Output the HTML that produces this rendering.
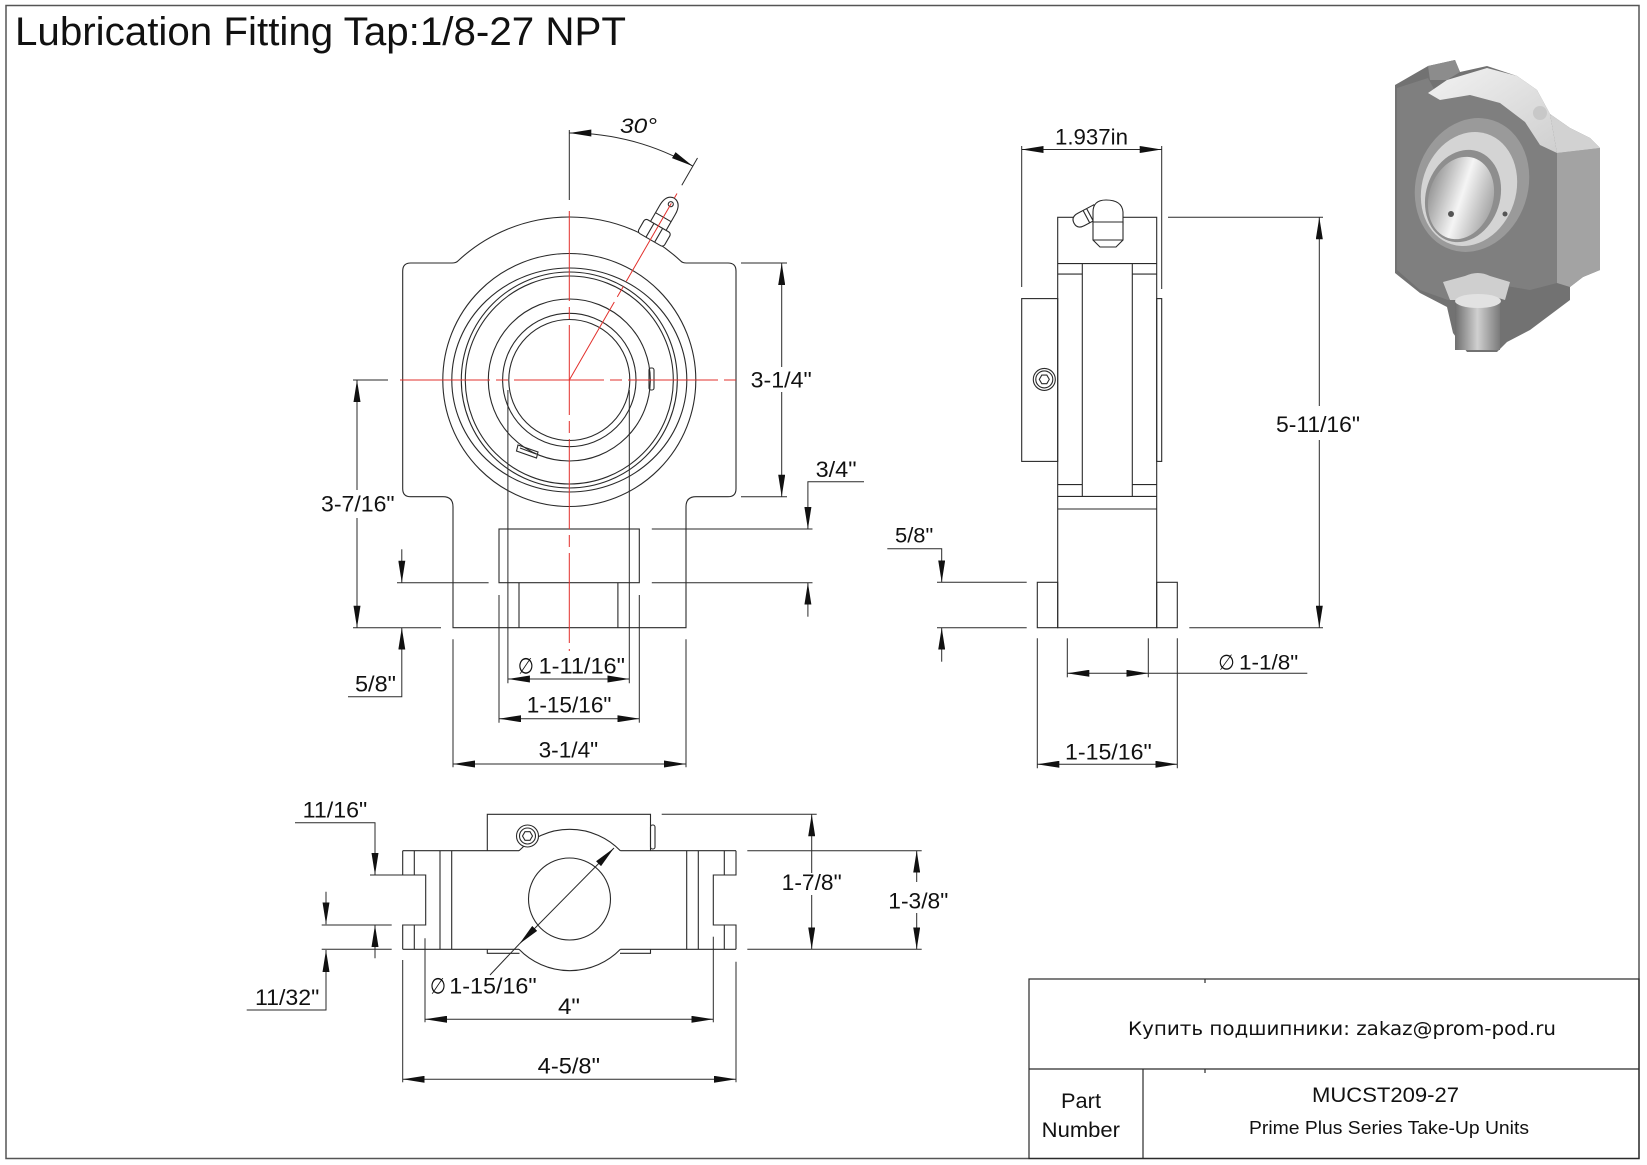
<!DOCTYPE html>
<html><head><meta charset="utf-8">
<style>
html,body{margin:0;padding:0;background:#fff;}
svg{display:block;}
text{font-family:"Liberation Sans",Arial,sans-serif;fill:#111;}
.sym{font-family:"DejaVu Sans","Liberation Sans",sans-serif;}
</style></head><body>
<svg width="1647" height="1165" viewBox="0 0 1647 1165" xmlns="http://www.w3.org/2000/svg">
<defs>
<marker id="ar" viewBox="0 0 22 7" refX="22" refY="3.5" markerWidth="22" markerHeight="7" markerUnits="userSpaceOnUse" orient="auto-start-reverse"><path d="M0,0 L22,3.5 L0,7 z" fill="#111"/></marker>
<linearGradient id="g1" x1="0" y1="0" x2="1" y2="1"><stop offset="0" stop-color="#f2f2f2"/><stop offset="1" stop-color="#cfcfcf"/></linearGradient>
<linearGradient id="g2" x1="0" y1="0" x2="1" y2="0"><stop offset="0" stop-color="#9a9a9a"/><stop offset="0.5" stop-color="#f5f5f5"/><stop offset="1" stop-color="#a8a8a8"/></linearGradient>
<linearGradient id="g3" x1="0" y1="0" x2="1" y2="0"><stop offset="0" stop-color="#6e6e6e"/><stop offset="0.5" stop-color="#d0d0d0"/><stop offset="1" stop-color="#7a7a7a"/></linearGradient>
</defs>

<!-- border -->
<rect x="6" y="5.5" width="1633" height="1153" fill="none" stroke="#555" stroke-width="1.5"/>

<!-- title -->
<text x="15" y="45" font-size="40" textLength="611" lengthAdjust="spacingAndGlyphs">Lubrication Fitting Tap:1/8-27 NPT</text>

<!-- ================= FRONT VIEW ================= -->
<g fill="none" stroke="#2a2a2a" stroke-width="1.1">
  <path d="M410.7,263 L452,263 Q456,263 457.9,261 A163,163 0 0 1 680.7,261 Q682.5,263 686.5,263 L728,263 Q736,263 736,271 L736,488.7 Q736,496.7 728,496.7 L696,496.7 Q686,496.7 686,506.7 L686,627.7 L453,627.7 L453,506.7 Q453,496.7 443,496.7 L410.7,496.7 Q402.7,496.7 402.7,488.7 L402.7,271 Q402.7,263 410.7,263 Z"/>
  <circle cx="569.3" cy="380" r="126.5"/>
  <ellipse cx="569.3" cy="380" rx="117.5" ry="112"/>
  <circle cx="569.3" cy="380" r="108"/>
  <circle cx="569.3" cy="380" r="104"/>
  <circle cx="569.3" cy="380" r="81"/>
  <circle cx="569.3" cy="380" r="66.7"/>
  <circle cx="569.3" cy="380" r="60.5"/>
  <rect x="649" y="368" width="5" height="22" rx="2"/>
  <polygon points="518,445 538,452 536.5,458 516.5,451"/>
  <line x1="520" y1="448" x2="536" y2="454"/>
  <!-- inner slot rect -->
  <rect x="499" y="529" width="140.3" height="53.7"/>
  <line x1="519" y1="582.7" x2="519" y2="627.7"/>
  <line x1="617.9" y1="582.7" x2="617.9" y2="627.7"/>
  <!-- grease fitting -->
  <g transform="translate(569.3,380) rotate(30)" fill="#fff">
    <path d="M-9,-177 L-9,-196 Q-9,-209 0,-210 Q9,-209 9,-196 L9,-177 Z"/>
    <line x1="-9" y1="-188" x2="9" y2="-188"/>
    <circle cx="0" cy="-203" r="2.5"/>
    <rect x="-15" y="-178" width="30" height="16" rx="3"/>
    <line x1="-5" y1="-178" x2="-5" y2="-162"/>
    <line x1="5" y1="-178" x2="5" y2="-162"/>
  </g>
</g>

<!-- red centerlines -->
<g stroke="#e2302c" stroke-width="1" fill="none" stroke-dasharray="90,6,12,6">
  <line x1="400" y1="380" x2="738" y2="380"/>
  <line x1="569.3" y1="211" x2="569.3" y2="651"/>
  <line x1="569.3" y1="380" x2="677" y2="193.5"/>
</g>

<!-- front dimensions -->
<g fill="none" stroke="#2a2a2a" stroke-width="1">
  <line x1="569.3" y1="130" x2="569.3" y2="200"/>
  <path d="M569.3,133 A247,247 0 0 1 692.8,166.1" marker-start="url(#ar)" marker-end="url(#ar)"/>
  <line x1="681.8" y1="185.2" x2="697.5" y2="158"/>
  <!-- 3-1/4 right -->
  <line x1="741" y1="263" x2="787" y2="263"/>
  <line x1="741" y1="496.7" x2="787" y2="496.7"/>
  <line x1="781.7" y1="263" x2="781.7" y2="367" marker-start="url(#ar)"/>
  <line x1="781.7" y1="392" x2="781.7" y2="496.7" marker-end="url(#ar)"/>
  <!-- 3/4 -->
  <path d="M864,481.7 L807.9,481.7 L807.9,529" marker-end="url(#ar)"/>
  <line x1="807.9" y1="616.7" x2="807.9" y2="582.7" marker-end="url(#ar)"/>
  <line x1="651.8" y1="529" x2="812.5" y2="529"/>
  <line x1="651.8" y1="582.7" x2="812.5" y2="582.7"/>
  <!-- 3-7/16 -->
  <line x1="353" y1="380" x2="388" y2="380"/>
  <line x1="353" y1="627.7" x2="441" y2="627.7"/>
  <line x1="357" y1="380" x2="357" y2="490" marker-start="url(#ar)"/>
  <line x1="357" y1="518" x2="357" y2="627.7" marker-end="url(#ar)"/>
  <!-- 5/8 left -->
  <line x1="397" y1="582.7" x2="488.6" y2="582.7"/>
  <line x1="401.8" y1="549.3" x2="401.8" y2="582.7" marker-end="url(#ar)"/>
  <path d="M348,696.7 L401.8,696.7 L401.8,627.7" marker-end="url(#ar)"/>
  <!-- 1-11/16 -->
  <line x1="507.9" y1="390" x2="507.9" y2="683.3"/>
  <line x1="629.3" y1="390" x2="629.3" y2="683.3"/>
  <line x1="507.9" y1="679" x2="629.3" y2="679" marker-start="url(#ar)" marker-end="url(#ar)"/>
  <!-- 1-15/16 -->
  <line x1="499" y1="595" x2="499" y2="722.7"/>
  <line x1="639.3" y1="595" x2="639.3" y2="722.7"/>
  <line x1="499" y1="718.7" x2="639.3" y2="718.7" marker-start="url(#ar)" marker-end="url(#ar)"/>
  <!-- 3-1/4 bottom -->
  <line x1="453" y1="639.3" x2="453" y2="767.3"/>
  <line x1="686" y1="639.3" x2="686" y2="767.3"/>
  <line x1="453" y1="764" x2="686" y2="764" marker-start="url(#ar)" marker-end="url(#ar)"/>
</g>
<g font-size="22">
  <text x="620" y="133" font-size="21" font-style="italic" textLength="37" lengthAdjust="spacingAndGlyphs">30°</text>
  <text x="750.7" y="387.3" textLength="61" lengthAdjust="spacingAndGlyphs">3-1/4"</text>
  <text x="815.6" y="477" textLength="41" lengthAdjust="spacingAndGlyphs">3/4"</text>
  <text x="321" y="511.7" textLength="73.6" lengthAdjust="spacingAndGlyphs">3-7/16"</text>
  <text x="355" y="691.7" textLength="41" lengthAdjust="spacingAndGlyphs">5/8"</text>
  <text class="sym" x="517.9" y="673.3" textLength="16" lengthAdjust="spacingAndGlyphs">∅</text>
  <text x="538.6" y="673.3" textLength="86.4" lengthAdjust="spacingAndGlyphs">1-11/16"</text>
  <text x="526.8" y="712.3" textLength="84.6" lengthAdjust="spacingAndGlyphs">1-15/16"</text>
  <text x="538.6" y="757.3" textLength="59.6" lengthAdjust="spacingAndGlyphs">3-1/4"</text>
</g>

<!-- ================= SIDE VIEW ================= -->
<g fill="none" stroke="#2a2a2a" stroke-width="1.1">
  <rect x="1057.7" y="217.3" width="99" height="410.4"/>
  <line x1="1057.7" y1="263.6" x2="1156.7" y2="263.6"/>
  <line x1="1057.7" y1="496.4" x2="1156.7" y2="496.4"/>
  <line x1="1057.7" y1="509" x2="1156.7" y2="509"/>
  <line x1="1082.3" y1="263.6" x2="1082.3" y2="496.4"/>
  <line x1="1132.3" y1="263.6" x2="1132.3" y2="496.4"/>
  <line x1="1057.7" y1="274.1" x2="1082.3" y2="274.1"/>
  <line x1="1132.3" y1="274.1" x2="1156.7" y2="274.1"/>
  <line x1="1057.7" y1="484.6" x2="1082.3" y2="484.6"/>
  <line x1="1132.3" y1="484.6" x2="1156.7" y2="484.6"/>
  <rect x="1021.7" y="298.6" width="36" height="162.8"/>
  <rect x="1156.7" y="298.6" width="5" height="162.8"/>
  <rect x="1037.3" y="582.3" width="20.4" height="45.4"/>
  <rect x="1156.7" y="582.3" width="20.6" height="45.4"/>
  <circle cx="1044.3" cy="379.4" r="11"/>
  <circle cx="1044.3" cy="379.4" r="8.5"/>
  <polygon points="1049.3,379.4 1046.8,383.7 1041.8,383.7 1039.3,379.4 1041.8,375.1 1046.8,375.1"/>
  <!-- grease fitting -->
  <g transform="translate(1097,211) rotate(-28)" fill="#fff">
    <path d="M0,-7 L-18,-7 Q-26,-7 -26,0 Q-26,7 -18,7 L0,7 Z"/>
    <line x1="-12" y1="-7" x2="-12" y2="7"/>
    <line x1="-8" y1="-7" x2="-8" y2="7"/>
  </g>
  <path d="M1093,224 L1093,212 Q1093,200 1106,200 Q1122,200 1123,212 L1123,224 Z" fill="#fff"/>
  <path d="M1093,222 L1093,240 L1100,247 L1116,247 L1123,240 L1123,222 Z" fill="#fff"/>
  <line x1="1093" y1="240" x2="1123" y2="240"/>
</g>
<g fill="none" stroke="#2a2a2a" stroke-width="1">
  <!-- 1.937 -->
  <line x1="1021.7" y1="146" x2="1021.7" y2="287"/>
  <line x1="1161.7" y1="146" x2="1161.7" y2="289"/>
  <line x1="1021.7" y1="149.5" x2="1161.7" y2="149.5" marker-start="url(#ar)" marker-end="url(#ar)"/>
  <!-- 5-11/16 -->
  <line x1="1168" y1="217.3" x2="1323" y2="217.3"/>
  <line x1="1189.3" y1="627.7" x2="1323" y2="627.7"/>
  <line x1="1319.3" y1="217.3" x2="1319.3" y2="406" marker-start="url(#ar)"/>
  <line x1="1319.3" y1="440" x2="1319.3" y2="627.7" marker-end="url(#ar)"/>
  <!-- 5/8 side -->
  <path d="M887.3,548.7 L941.7,548.7 L941.7,582.3" marker-end="url(#ar)"/>
  <line x1="941.7" y1="661.7" x2="941.7" y2="627.7" marker-end="url(#ar)"/>
  <line x1="937" y1="582.3" x2="1026.7" y2="582.3"/>
  <line x1="937" y1="627.7" x2="1026.7" y2="627.7"/>
  <!-- dia 1-1/8 -->
  <line x1="1067.3" y1="638.3" x2="1067.3" y2="677.3"/>
  <line x1="1148.3" y1="638.3" x2="1148.3" y2="677.3"/>
  <line x1="1067.3" y1="673.3" x2="1148.3" y2="673.3" marker-start="url(#ar)" marker-end="url(#ar)"/>
  <line x1="1148.3" y1="673.3" x2="1307.3" y2="673.3"/>
  <!-- 1-15/16 side -->
  <line x1="1037.3" y1="638.3" x2="1037.3" y2="768.3"/>
  <line x1="1177.3" y1="638.3" x2="1177.3" y2="768.3"/>
  <line x1="1037.3" y1="764.3" x2="1177.3" y2="764.3" marker-start="url(#ar)" marker-end="url(#ar)"/>
</g>
<g font-size="22">
  <text x="1055" y="144.5" textLength="73" lengthAdjust="spacingAndGlyphs">1.937in</text>
  <text x="1276" y="432" textLength="84" lengthAdjust="spacingAndGlyphs">5-11/16"</text>
  <text x="895" y="542.7" font-size="21" textLength="38.3" lengthAdjust="spacingAndGlyphs">5/8"</text>
  <text class="sym" x="1218.3" y="669.3" font-size="21" textLength="16.5" lengthAdjust="spacingAndGlyphs">∅</text>
  <text x="1239" y="669.3" font-size="21" textLength="59.3" lengthAdjust="spacingAndGlyphs">1-1/8"</text>
  <text x="1065" y="759.3" textLength="86.7" lengthAdjust="spacingAndGlyphs">1-15/16"</text>
</g>

<!-- ================= BOTTOM VIEW ================= -->
<g fill="none" stroke="#2a2a2a" stroke-width="1.1">
  <line x1="402.7" y1="850.7" x2="519" y2="850.7"/>
  <line x1="620.4" y1="850.7" x2="736" y2="850.7"/>
  <line x1="402.7" y1="949.3" x2="519" y2="949.3"/>
  <line x1="620.4" y1="949.3" x2="736" y2="949.3"/>
  <path d="M519,850.7 A70.7,70.7 0 0 1 620.4,850.7"/>
  <path d="M519,949.3 A70.7,70.7 0 0 0 620.4,949.3"/>
  <path d="M487.3,850.7 L487.3,814.3 L650.5,814.3 L650.5,850.7"/>
  <path d="M487.3,949.3 L487.3,953.3 L519.5,953.3 M620,953.3 L650.5,953.3 L650.5,949.3"/>
  <path d="M402.7,850.7 L402.7,875 L425.7,875 L425.7,925 L402.7,925 L402.7,949.3"/>
  <path d="M414.3,850.7 V875 M414.3,925 V949.3 M440,850.7 V949.3 M451.7,850.7 V949.3"/>
  <path d="M736,850.7 V875 H713.3 V925 H736 V949.3"/>
  <path d="M724.3,850.7 V875 M724.3,925 V949.3 M686.7,850.7 V949.3 M698.3,850.7 V949.3"/>
  <circle cx="569.5" cy="899" r="41"/>
  <circle cx="527.5" cy="836" r="11" fill="#fff"/>
  <circle cx="527.5" cy="836" r="8"/>
  <polygon points="532.5,836 530,840.3 525,840.3 522.5,836 525,831.7 530,831.7"/>
  <rect x="650.5" y="825" width="4.5" height="24" rx="2"/>
</g>
<g fill="none" stroke="#2a2a2a" stroke-width="1">
  <!-- 11/16 -->
  <path d="M295,822.7 L375,822.7 L375,875" marker-end="url(#ar)"/>
  <line x1="375" y1="958.3" x2="375" y2="925" marker-end="url(#ar)"/>
  <line x1="370" y1="875" x2="402.7" y2="875"/>
  <line x1="321.7" y1="925" x2="391.7" y2="925"/>
  <line x1="321.7" y1="949.3" x2="391.7" y2="949.3"/>
  <!-- 11/32 -->
  <line x1="326" y1="891.7" x2="326" y2="924.3" marker-end="url(#ar)"/>
  <path d="M246.7,1010 L326,1010 L326,950" marker-end="url(#ar)"/>
  <!-- dia diag -->
  <line x1="614" y1="848" x2="519.3" y2="944" marker-start="url(#ar)" marker-end="url(#ar)"/>
  <line x1="519.3" y1="944" x2="490" y2="975"/>
  <!-- 4" -->
  <line x1="425" y1="938.3" x2="425" y2="1022.3"/>
  <line x1="713.3" y1="936.7" x2="713.3" y2="1022.3"/>
  <line x1="425" y1="1019.3" x2="713.3" y2="1019.3" marker-start="url(#ar)" marker-end="url(#ar)"/>
  <!-- 4-5/8 -->
  <line x1="402.7" y1="960" x2="402.7" y2="1082.3"/>
  <line x1="736" y1="961.7" x2="736" y2="1082.3"/>
  <line x1="402.7" y1="1079.3" x2="736" y2="1079.3" marker-start="url(#ar)" marker-end="url(#ar)"/>
  <!-- 1-7/8 -->
  <line x1="661.7" y1="814.3" x2="816.7" y2="814.3"/>
  <line x1="747.3" y1="850.7" x2="921.7" y2="850.7"/>
  <line x1="747.3" y1="949.3" x2="921.7" y2="949.3"/>
  <line x1="811.7" y1="814.3" x2="811.7" y2="873" marker-start="url(#ar)"/>
  <line x1="811.7" y1="895" x2="811.7" y2="949.3" marker-end="url(#ar)"/>
  <!-- 1-3/8 -->
  <line x1="916.7" y1="850.7" x2="916.7" y2="882" marker-start="url(#ar)"/>
  <line x1="916.7" y1="913" x2="916.7" y2="949.3" marker-end="url(#ar)"/>
</g>
<g font-size="22">
  <text x="302.7" y="817.3" textLength="64.6" lengthAdjust="spacingAndGlyphs">11/16"</text>
  <text x="255" y="1005" textLength="64.3" lengthAdjust="spacingAndGlyphs">11/32"</text>
  <text class="sym" x="430" y="993.3" textLength="16" lengthAdjust="spacingAndGlyphs">∅</text>
  <text x="449.3" y="993.3" textLength="87.4" lengthAdjust="spacingAndGlyphs">1-15/16"</text>
  <text x="558" y="1014" textLength="22" lengthAdjust="spacingAndGlyphs">4"</text>
  <text x="537.7" y="1073.3" textLength="62.3" lengthAdjust="spacingAndGlyphs">4-5/8"</text>
  <text x="781.7" y="890" textLength="60" lengthAdjust="spacingAndGlyphs">1-7/8"</text>
  <text x="888.3" y="908.3" textLength="60" lengthAdjust="spacingAndGlyphs">1-3/8"</text>
</g>

<!-- ================= 3D IMAGE ================= -->
<g stroke="none">
  <polygon fill="#727272" points="1395,85 1428,66 1455,60 1460,72 1487,66 1517,76 1537,90 1550,114 1570,128 1590,138 1600,148 1600,270 1583,277 1570,287 1570,300 1530,330 1507,342 1497,352 1467,352 1453,333 1447,307 1420,293 1395,273"/>
  <polygon fill="#7f7f7f" points="1397,88 1428,78 1440,100 1470,95 1500,103 1525,122 1540,145 1557,153 1557,283 1530,290 1500,285 1470,290 1448,300 1420,290 1397,270"/>
  <polygon fill="#a3a3a3" points="1557,153 1600,148 1600,270 1583,277 1570,287 1557,283"/>
  <polygon fill="url(#g1)" points="1428,93 1447,80 1487,68 1517,76 1537,90 1550,114 1557,153 1540,145 1525,122 1500,103 1470,95 1440,100"/>
  <polygon fill="#d2d2d2" points="1550,114 1570,128 1590,138 1600,148 1557,153"/>
  <polygon fill="#8c8c8c" points="1428,66 1455,60 1460,72 1447,80 1430,80"/>
  <ellipse cx="1472" cy="185" rx="56" ry="68" transform="rotate(18 1472 185)" fill="#9a9a9a"/>
  <ellipse cx="1469" cy="189" rx="47" ry="58" transform="rotate(18 1469 189)" fill="#d4d4d4"/>
  <ellipse cx="1463" cy="196" rx="37" ry="47" transform="rotate(18 1463 196)" fill="#8e8e8e"/>
  <ellipse cx="1461" cy="198" rx="32" ry="42" transform="rotate(18 1461 198)" fill="url(#g2)"/>
  <circle cx="1540" cy="113" r="7" fill="#c8c8c8"/>
  <circle cx="1451" cy="214" r="3" fill="#555"/>
  <circle cx="1505" cy="214" r="2.5" fill="#555"/>
  <path d="M1443,282 L1465,276 Q1478,270 1490,276 L1510,282 L1505,300 Q1480,292 1458,300 L1450,300 Z" fill="#cfcfcf"/>
  <rect x="1455" y="300" width="45" height="50" fill="url(#g3)"/>
  <ellipse cx="1478" cy="301" rx="23" ry="7" fill="#e2e2e2"/>
</g>

<!-- ================= TITLE BLOCK ================= -->
<g fill="none" stroke="#2a2a2a" stroke-width="1.2">
  <rect x="1029" y="979" width="610" height="179.5"/>
  <line x1="1029" y1="1069" x2="1639" y2="1069"/>
  <line x1="1143" y1="1069" x2="1143" y2="1158.5"/>
  <line x1="1205" y1="979" x2="1205" y2="983"/>
  <line x1="1205" y1="1069" x2="1205" y2="1073"/>
</g>
<text x="1128" y="1035" font-size="19" style="font-family:'DejaVu Sans','Liberation Sans',sans-serif" textLength="428" lengthAdjust="spacingAndGlyphs">Купить подшипники: zakaz@prom-pod.ru</text>
<text x="1312" y="1102" font-size="21" textLength="147" lengthAdjust="spacingAndGlyphs">MUCST209-27</text>
<text x="1249" y="1134" font-size="18.5" textLength="280" lengthAdjust="spacingAndGlyphs">Prime Plus Series Take-Up Units</text>
<text x="1061" y="1108" font-size="21" textLength="40" lengthAdjust="spacingAndGlyphs">Part</text>
<text x="1041.7" y="1137" font-size="21" textLength="78.3" lengthAdjust="spacingAndGlyphs">Number</text>
</svg>
</body></html>
